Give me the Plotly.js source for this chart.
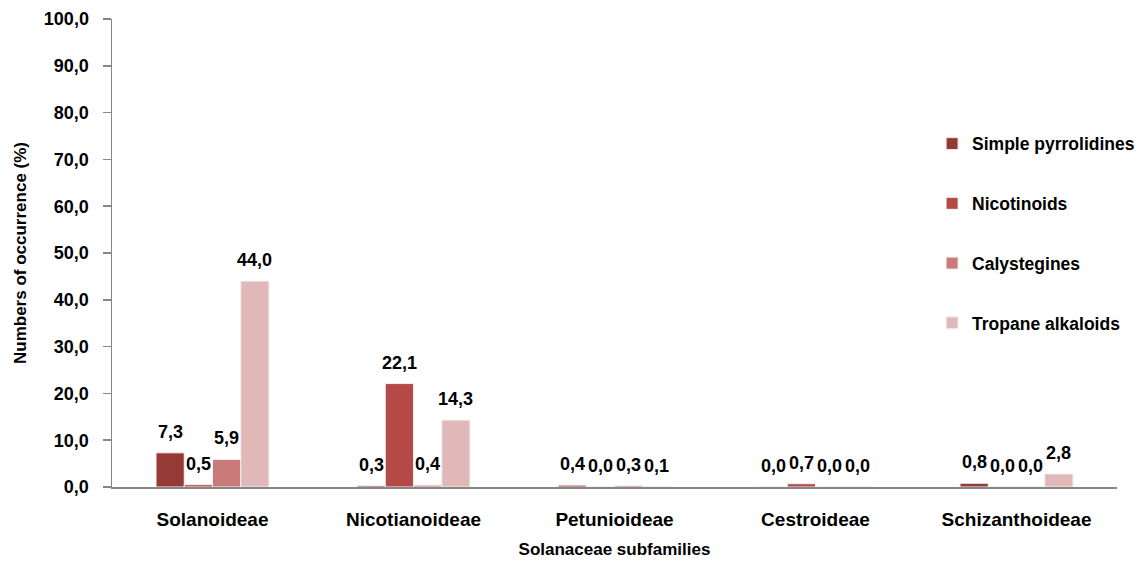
<!DOCTYPE html>
<html>
<head>
<meta charset="utf-8">
<script src="https://cdn.plot.ly/plotly-3.0.1.min.js"></script>
<style>html,body{margin:0;padding:0;background:#fff;}#chart{width:1145px;height:565px;}</style>
</head>
<body>
<div id="chart"></div>
<script>
const categories = ["Solanoideae", "Nicotianoideae", "Petunioideae", "Cestroideae", "Schizanthoideae"];
const seriesNames = ["Simple pyrrolidines", "Nicotinoids", "Calystegines", "Tropane alkaloids"];
const simplePyrrolidines = [7.3, 0.3, 0.4, 0.0, 0.8];
const nicotinoids = [0.5, 22.1, 0.0, 0.7, 0.0];
const calystegines = [5.9, 0.4, 0.3, 0.0, 0.0];
const tropaneAlkaloids = [44.0, 14.3, 0.1, 0.0, 2.8];
const yTickValues = [0, 10, 20, 30, 40, 50, 60, 70, 80, 90, 100];

const seriesValues = [simplePyrrolidines, nicotinoids, calystegines, tropaneAlkaloids];
const colors = ["#963A37", "#B54947", "#CA7B79", "#E0B8B8"];
const FONT = "Liberation Sans, Arial, sans-serif";
const bargap = 0.438;

const traces = seriesValues.map((vals, i) => ({
  type: "bar",
  name: seriesNames[i],
  x: categories,
  y: vals,
  legendgroup: "g" + i,
  marker: {color: colors[i], line: {color: "#f2f2f2", width: 1}},
  hoverinfo: "x+y+name"
}));

const annotations = [];
const nS = seriesValues.length;
const bw = (1 - bargap) / nS;
seriesValues.forEach((vals, i) => {
  vals.forEach((v, j) => {
    annotations.push({
      x: j - (1 - bargap) / 2 + (i + 0.5) * bw,
      y: v,
      xref: "x", yref: "y",
      text: "<b>" + v.toFixed(1).replace(".", ",") + "</b>",
      showarrow: false,
      yanchor: "bottom",
      yshift: 9,
      font: {family: FONT, size: 18, color: "#000"}
    });
  });
});

const layout = {
  width: 1145, height: 565,
  margin: {l: 112, r: 28, t: 19, b: 78, autoexpand: false},
  paper_bgcolor: "#fff", plot_bgcolor: "#fff",
  separators: ",.",
  barmode: "group",
  bargap: bargap,
  bargroupgap: 0,
  font: {family: FONT, color: "#000"},
  showlegend: true,
  legend: {
    x: 0.816, xanchor: "left",
    y: 0.772, yanchor: "top",
    bgcolor: "rgba(0,0,0,0)",
    tracegroupgap: 34,
    font: {family: FONT, size: 17.5, color: "#000", weight: "bold"}
  },
  xaxis: {
    type: "category",
    showline: true, linecolor: "#868686", linewidth: 2,
    ticks: "", showgrid: false, zeroline: false,
    tickfont: {family: FONT, size: 19, color: "#000", weight: "bold"},
    ticklabelstandoff: 14,
    title: {text: "<b>Solanaceae subfamilies</b>", font: {family: FONT, size: 17, color: "#000"}, standoff: 14}
  },
  yaxis: {
    range: [0, 100],
    tickvals: yTickValues,
    tickformat: ".1f",
    showline: true, linecolor: "#868686", linewidth: 1.5,
    ticks: "outside", ticklen: 8, tickcolor: "#868686", tickwidth: 1.5,
    showgrid: false, zeroline: false,
    tickfont: {family: FONT, size: 18, color: "#000", weight: "bold"},
    ticklabelstandoff: 10,
    title: {text: "<b>Numbers of occurrence (%)</b>", font: {family: FONT, size: 17, color: "#000"}, standoff: 13}
  },
  annotations: annotations
};

Plotly.newPlot("chart", traces, layout, {displayModeBar: false, staticPlot: true});
</script>
</body>
</html>
